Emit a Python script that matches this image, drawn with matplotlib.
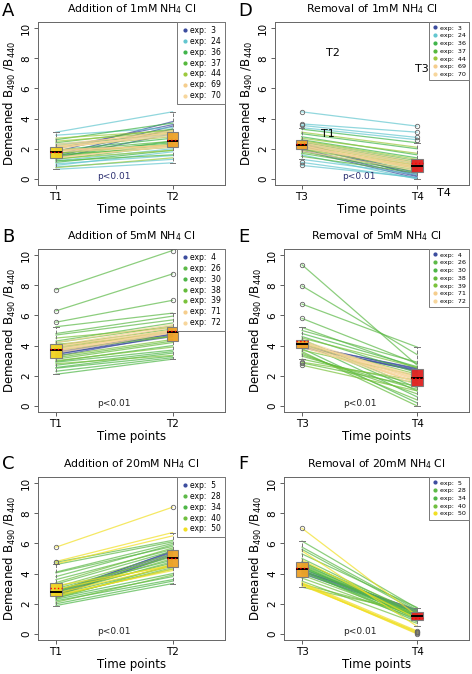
import matplotlib
matplotlib.use('agg')
import matplotlib.pyplot as plt
from matplotlib.lines import Line2D

# ---- data: one entry per cell, (experiment id, value before, value after) ----
a_exp = [3, 3, 3, 3, 3,
         24, 24, 24, 24, 24, 24, 24, 24,
         36, 36, 36, 36, 36, 36,
         37, 37, 37, 37, 37, 37,
         44, 44, 44, 44, 44, 44,
         69, 69, 69, 69, 69, 69, 69,
         70, 70, 70, 70, 70]
a_t1 = [1.5, 1.6, 1.8, 1.4, 2.0,
        3.1, 0.64, 0.8, 1.0, 2.9, 1.2, 2.3, 0.9,
        1.3, 1.5, 1.7, 2.6, 1.1, 1.9,
        1.45, 1.6, 2.2, 1.2, 2.4, 1.85,
        2.7, 2.1, 1.35, 1.7, 2.5, 0.75,
        1.9, 2.0, 2.15, 1.45, 2.3, 1.85, 1.95,
        2.05, 1.8, 2.2, 1.4, 2.1]
a_t2 = [3.3, 3.5, 3.8, 3.0, 3.6,
        4.45, 1.07, 1.3, 1.55, 3.4, 2.0, 2.9, 1.8,
        2.2, 2.5, 2.4, 3.7, 1.9, 2.7,
        2.3, 2.1, 3.0, 1.6, 3.3, 2.5,
        3.2, 2.8, 1.9, 2.3, 3.1, 1.4,
        2.2, 3.1, 3.2, 2.15, 3.05, 2.25, 2.2,
        3.0, 2.1, 2.9, 2.15, 2.85]

b_exp = [4, 4, 4, 4, 4,
         26, 26, 26, 26, 26, 26, 26,
         30, 30, 30, 30, 30, 30, 30,
         38, 38, 38, 38, 38, 38,
         39, 39, 39, 39, 39, 39,
         71, 71, 71, 71, 71,
         72, 72, 72, 72, 72]
b_t1 = [3.3, 3.4, 3.5, 3.6, 3.45,
        7.7, 6.3, 5.55, 5.25, 4.8, 4.7, 4.3,
        2.1, 2.3, 2.5, 2.55, 2.7, 2.9, 2.95,
        3.1, 3.2, 3.8, 4.0, 4.2, 3.7,
        3.0, 4.5, 2.8, 3.3, 3.9, 4.1,
        3.6, 3.7, 3.8, 3.9, 4.0,
        3.5, 3.65, 3.95, 4.2, 3.75]
b_t2 = [4.7, 4.8, 4.9, 4.75, 4.6,
        10.3, 8.75, 7.0, 6.15, 5.95, 5.7, 5.5,
        3.1, 3.2, 3.3, 3.5, 3.6, 3.7, 4.0,
        4.2, 4.3, 5.0, 5.1, 5.3, 4.6,
        3.9, 5.2, 3.35, 4.4, 4.9, 4.6,
        4.9, 5.0, 5.05, 5.2, 5.3,
        4.85, 4.95, 5.0, 5.4, 4.85]

c_exp = [5, 5, 5, 5, 5,
         28, 28, 28, 28, 28, 28, 28, 28,
         34, 34, 34, 34, 34, 34, 34, 34, 34,
         40, 40, 40, 40, 40, 40, 40, 40,
         50, 50, 50, 50, 50, 50, 50, 50]
c_t1 = [2.5, 2.6, 2.7, 2.55, 2.8,
        4.75, 4.6, 4.1, 4.05, 3.8, 3.6, 3.3, 3.0,
        2.9, 2.8, 2.6, 2.5, 2.4, 2.3, 2.2, 2.0, 1.88,
        2.1, 2.75, 2.65, 2.85, 3.1, 2.45, 3.4, 2.35,
        5.75, 4.8, 4.65, 2.95, 2.7, 2.6, 2.5, 3.2]
c_t2 = [5.3, 5.4, 5.5, 5.2, 5.45,
        6.2, 6.1, 6.0, 5.8, 5.9, 5.6, 5.5, 5.1,
        4.9, 4.7, 4.5, 4.3, 4.0, 3.8, 3.6, 3.5, 3.34,
        3.9, 5.0, 4.8, 5.2, 5.3, 4.4, 5.7, 4.6,
        8.4, 6.72, 6.5, 4.6, 4.5, 4.2, 4.3, 4.5]

d_exp = [3, 3, 3, 3, 3,
         24, 24, 24, 24, 24, 24, 24, 24,
         36, 36, 36, 36, 36, 36,
         37, 37, 37, 37, 37, 37,
         44, 44, 44, 44, 44,
         69, 69, 69, 69, 69,
         70, 70, 70, 70, 70]
d_t3 = [2.2, 2.0, 1.9, 2.3, 2.4,
        4.45, 3.65, 3.55, 0.9, 1.1, 1.3, 3.4, 1.6,
        3.3, 3.0, 2.8, 2.6, 2.5, 2.35,
        2.1, 1.8, 1.5, 1.7, 2.45, 2.0,
        3.1, 2.7, 2.25, 1.95, 2.55,
        2.2, 2.3, 2.1, 2.4, 2.15,
        2.05, 2.35, 2.25, 1.85, 2.5]
d_t4 = [0.3, 0.15, 0.05, 0.4, 0.2,
        3.5, 3.1, 2.75, 0.1, 0.05, 0.3, 2.6, 0.0,
        2.4, 2.0, 1.6, 1.4, 1.2, 1.0,
        0.8, 0.6, 0.4, 0.5, 1.1, 0.9,
        2.1, 1.7, 0.9, 0.7, 1.3,
        0.8, 0.9, 0.7, 1.05, 0.75,
        0.85, 1.0, 0.6, 0.55, 1.15]

e_exp = [4, 4, 4, 4, 4,
         26, 26, 26, 26, 26, 26,
         30, 30, 30, 30, 30, 30,
         38, 38, 38, 38, 38, 38,
         39, 39, 39, 39, 39,
         71, 71, 71, 71, 71,
         72, 72, 72, 72, 72]
e_t3 = [3.9, 4.0, 3.95, 4.05, 3.85,
        9.35, 7.95, 6.75, 5.8, 5.2, 5.0,
        4.8, 4.6, 4.4, 4.3, 4.2, 3.8,
        3.6, 3.5, 3.4, 3.3, 3.1, 2.85,
        2.7, 2.9, 3.7, 4.1, 4.5,
        4.0, 4.1, 4.2, 3.9, 4.3,
        4.35, 3.95, 4.15, 4.25, 4.05]
e_t4 = [2.4, 2.5, 2.3, 2.45, 2.35,
        2.7, 3.4, 3.9, 2.8, 2.5, 2.9,
        2.6, 2.2, 1.2, 1.0, 0.6, 0.2,
        0.0, 0.4, 0.8, 1.1, 1.5, 1.3,
        1.0, 1.7, 2.0, 2.1, 2.55,
        1.7, 1.8, 1.9, 1.6, 1.5,
        1.85, 1.4, 2.0, 1.75, 1.55]

f_exp = [5, 5, 5, 5, 5,
         28, 28, 28, 28, 28, 28, 28,
         34, 34, 34, 34, 34, 34, 34, 34,
         40, 40, 40, 40, 40, 40, 40,
         50, 50, 50, 50, 50, 50, 50, 50]
f_t3 = [4.2, 4.1, 4.3, 4.0, 4.15,
        6.15, 5.75, 5.6, 5.3, 5.0, 4.8, 4.7,
        4.6, 4.5, 4.45, 4.4, 4.35, 4.25, 4.2, 4.05,
        3.9, 3.7, 3.5, 3.3, 3.1, 4.55, 4.75,
        7.0, 5.5, 3.4, 3.35, 3.3, 3.25, 4.9, 3.2]
f_t4 = [1.5, 1.45, 1.55, 1.4, 1.6,
        1.7, 1.6, 1.5, 1.75, 1.3, 1.2, 1.1,
        1.35, 1.0, 1.25, 1.15, 1.05, 0.9, 0.8, 1.2,
        1.1, 1.0, 0.7, 1.3, 1.4, 1.2, 1.45,
        1.2, 0.5, 0.2, 0.1, 0.0, 0.05, 1.0, 0.15]

exp_colors = {3: '#3b4c9e', 4: '#3b4c9e', 5: '#3b4c9e',
              24: '#62c6cf',
              26: '#5cb947', 28: '#5cb947',
              30: '#4db646', 34: '#4db646',
              36: '#3fb44a', 37: '#55b83c',
              38: '#63bb3a', 40: '#6fbf3e', 39: '#79c23a',
              44: '#9cc93c',
              69: '#f5cd8c', 70: '#f7d69c', 71: '#f5cd8c', 72: '#f7d69c',
              50: '#f1df22'}

YELLOW = '#f1d31f'
ORANGE = '#eea126'
RED = '#e0201f'


def draw_panel(ax, exps, before, after, ticks, box_colors, legend_fs, leg_space, xlim, p_color):
    for e, y0, y1 in zip(exps, before, after):
        ax.plot([1, 2], [y0, y1], color=exp_colors[e], lw=0.9, alpha=0.7, zorder=2)
    bp = ax.boxplot([before, after], positions=[1, 2], widths=0.1,
                    patch_artist=True, showmeans=True, meanline=True, zorder=3,
                    boxprops=dict(edgecolor='#7a7a7a', lw=0.8),
                    medianprops=dict(color='black', lw=1.4),
                    meanprops=dict(color='red', ls=':', lw=1.0),
                    whiskerprops=dict(color='#777777', ls='--', lw=0.7),
                    capprops=dict(color='#777777', lw=0.7),
                    flierprops=dict(marker='o', mfc='none', mec='#666666', ms=3.2, mew=0.6))
    for patch, c in zip(bp['boxes'], box_colors):
        patch.set_facecolor(c)
        patch.set_alpha(0.95)
    ax.set_xlim(*xlim)
    ax.set_ylim(-0.4, 10.4)
    ax.set_xticks([1, 2])
    ax.set_xticklabels(ticks, fontsize=7.5)
    ax.set_yticks([0, 2, 4, 6, 8, 10])
    ax.set_yticklabels(['0', '2', '4', '6', '8', '10'], fontsize=7.5, rotation=90, va='center')
    ax.tick_params(length=3, width=0.6, color='#444444', pad=2)
    for s in ax.spines.values():
        s.set_color('#666666')
        s.set_linewidth(0.7)
    ax.set_xlabel('Time points', fontsize=8.5, labelpad=1)
    ax.set_ylabel('Demeaned B$_{490}$ /B$_{440}$', fontsize=8.5, labelpad=2)
    ax.text(1.5, 0.15, 'p<0.01', ha='center', va='center', fontsize=6.5, color=p_color)
    seen = []
    for e in exps:
        if e not in seen:
            seen.append(e)
    handles = [Line2D([], [], ls='none', marker='o', ms=2.0, color=exp_colors[e]) for e in seen]
    leg = ax.legend(handles, ['exp:  %d' % e for e in seen], loc='upper right',
                    fontsize=legend_fs, borderaxespad=0, handlelength=1.0,
                    handletextpad=0.2, labelspacing=leg_space, fancybox=False,
                    borderpad=0.5, framealpha=1)
    leg.get_frame().set_edgecolor('#777777')
    leg.get_frame().set_linewidth(0.7)


fig = plt.figure(figsize=(4.72, 6.74), dpi=100)
H = 674.0
W = 472.0


def axes_at(left, right, top, bottom):
    return fig.add_axes([left / W, 1 - bottom / H, (right - left) / W, (bottom - top) / H])


ax_a = axes_at(38, 225, 22, 185)
ax_b = axes_at(38, 225, 249, 412)
ax_c = axes_at(38, 225, 477, 640)
ax_d = axes_at(275, 469, 22, 185)
ax_e = axes_at(284, 469, 249, 412)
ax_f = axes_at(284, 469, 477, 640)

draw_panel(ax_a, a_exp, a_t1, a_t2, ['T1', 'T2'], [YELLOW, ORANGE], 5.5, 0.25, (0.846, 2.45), '#2b2f70')
draw_panel(ax_b, b_exp, b_t1, b_t2, ['T1', 'T2'], [YELLOW, ORANGE], 5.5, 0.25, (0.846, 2.45), '#222222')
draw_panel(ax_c, c_exp, c_t1, c_t2, ['T1', 'T2'], [YELLOW, ORANGE], 5.5, 0.25, (0.846, 2.45), '#222222')
draw_panel(ax_d, d_exp, d_t3, d_t4, ['T3', 'T4'], [ORANGE, RED], 4.6, 0.35, (0.77, 2.45), '#2b2f70')
draw_panel(ax_e, e_exp, e_t3, e_t4, ['T3', 'T4'], [ORANGE, RED], 4.6, 0.35, (0.843, 2.45), '#222222')
draw_panel(ax_f, f_exp, f_t3, f_t4, ['T3', 'T4'], [ORANGE, RED], 4.6, 0.35, (0.843, 2.45), '#222222')

ax_a.set_title('Addition of 1mM NH$_4$ Cl', fontsize=7.8, pad=7)
ax_b.set_title('Addition of 5mM NH$_4$ Cl', fontsize=7.8, pad=7)
ax_c.set_title('Addition of 20mM NH$_4$ Cl', fontsize=7.8, pad=7)
ax_d.set_title('Removal of 1mM NH$_4$ Cl', fontsize=7.8, pad=7)
ax_e.set_title('Removal of 5mM NH$_4$ Cl', fontsize=7.8, pad=7)
ax_f.set_title('Removal of 20mM NH$_4$ Cl', fontsize=7.8, pad=7)

# stray labels that sit in panel D of the original
for lbl, x, y in [('T2', 1.27, 8.35), ('T3', 2.04, 7.3), ('T1', 1.23, 2.96), ('T4', 2.23, -0.92)]:
    ax_d.text(x, y, lbl, fontsize=8, ha='center', va='center', clip_on=False, zorder=6)

for lbl, x, y in [('A', 2, 2), ('B', 2, 228), ('C', 2, 455),
                  ('D', 238, 2), ('E', 238, 228), ('F', 238, 455)]:
    fig.text(x / W, 1 - y / H, lbl, fontsize=13, ha='left', va='top')

plt.savefig('out.png', dpi=100)
